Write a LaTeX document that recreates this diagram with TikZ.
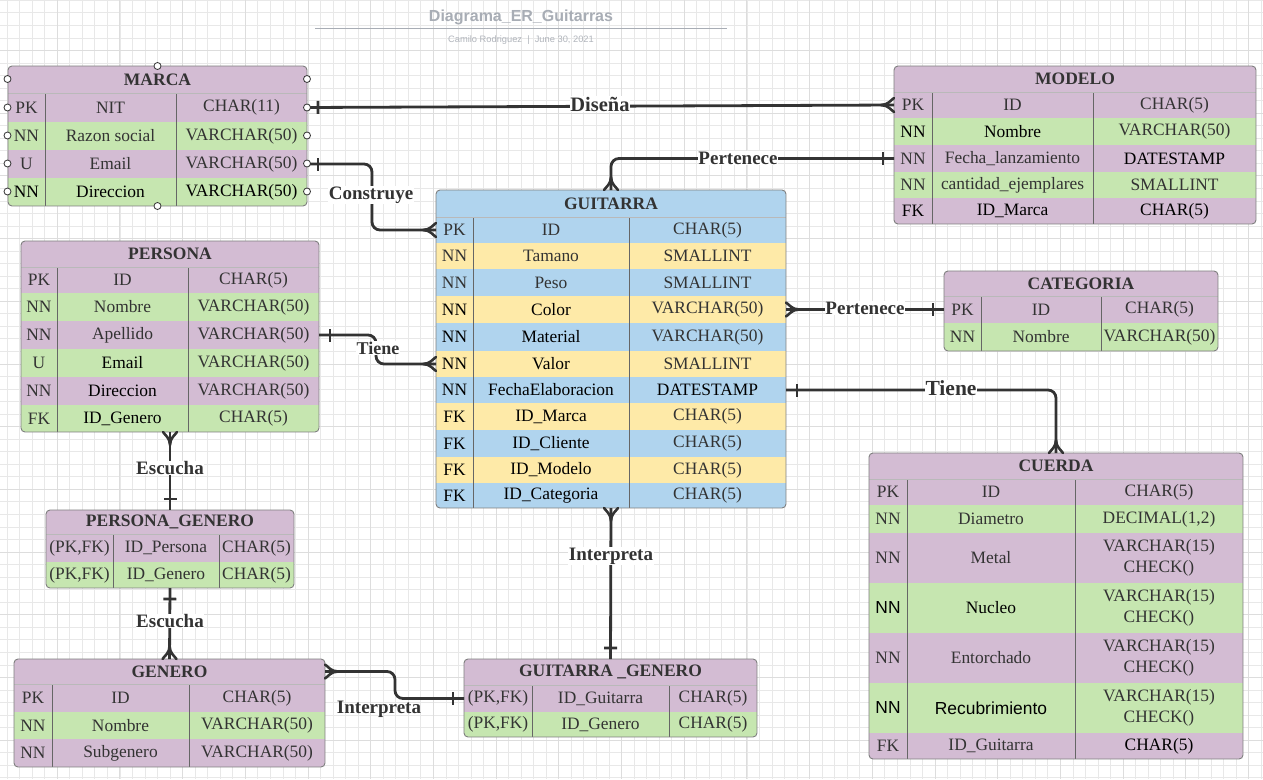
\documentclass[tikz,border=0pt]{standalone}
\usepackage{fontspec}
\setmainfont{Liberation Serif}
\newfontfamily\sansf{Liberation Sans}
\usetikzlibrary{calc}

\definecolor{pur}{HTML}{D3BCD3}
\definecolor{grn}{HTML}{C6E6B0}
\definecolor{blu}{HTML}{B0D4EE}
\definecolor{yel}{HTML}{FEEAA8}
\definecolor{ink}{HTML}{333333}
\definecolor{tblframe}{HTML}{7F7F7F}
\definecolor{tblcol}{HTML}{666666}
\definecolor{gminc}{HTML}{E8E8E8}
\definecolor{gmajc}{HTML}{DDDDDD}
\definecolor{ttl}{HTML}{A8ADB5}

% ER cardinality marks: "one" bar and "many" crow's foot
\pgfdeclarearrow{
  name = erone,
  setup code = {
    \pgfarrowssettipend{0pt}
    \pgfarrowssetlineend{0pt}
    \pgfarrowssetbackend{-13pt}
    \pgfarrowssetvisualbackend{-13pt}
  },
  drawing code = {
    \pgfsetlinewidth{2.6pt}
    \pgfsetdash{}{0pt}
    \pgfpathmoveto{\pgfqpoint{-11pt}{6.5pt}}
    \pgfpathlineto{\pgfqpoint{-11pt}{-6.5pt}}
    \pgfusepathqstroke
  }
}
\pgfdeclarearrow{
  name = ermany,
  setup code = {
    \pgfarrowssettipend{0pt}
    \pgfarrowssetlineend{0pt}
    \pgfarrowssetbackend{-14pt}
    \pgfarrowssetvisualbackend{-14pt}
  },
  drawing code = {
    \pgfsetlinewidth{2.6pt}
    \pgfsetdash{}{0pt}
    \pgfsetroundcap
    \pgfpathmoveto{\pgfqpoint{-13pt}{0pt}}
    \pgfpathcurveto{\pgfqpoint{-6pt}{0pt}}{\pgfqpoint{-3pt}{5pt}}{\pgfqpoint{0pt}{7pt}}
    \pgfpathmoveto{\pgfqpoint{-13pt}{0pt}}
    \pgfpathcurveto{\pgfqpoint{-6pt}{0pt}}{\pgfqpoint{-3pt}{-5pt}}{\pgfqpoint{0pt}{-7pt}}
    \pgfusepathqstroke
  }
}

\tikzset{
  cell/.style={inner sep=0pt, text=ink, font=\fontsize{17.4}{21}\selectfont, align=center},
  headtxt/.style={inner sep=0pt, text=ink, font=\bfseries\fontsize{17.5}{20}\selectfont},
  rowbox/.style={inner sep=0pt, outer sep=0pt, draw=none},
  tframe/.style={draw=tblframe, line width=0.9pt, rounded corners=4pt},
  colline/.style={draw=tblcol, line width=0.8pt},
  hdrline/.style={draw=gray!55, line width=0.8pt},
  conn/.style={draw=ink, line width=2.8pt, rounded corners=8pt},
  lbl/.style={text=ink, font=\bfseries\fontsize{19}{19}\selectfont, fill=white, inner sep=0.5pt},
  handle/.style={circle, draw=ink, fill=white, inner sep=0pt, minimum size=7pt, line width=0.8pt},
  gmin/.style={draw=gminc, line width=0.7pt},
  gmaj/.style={draw=gmajc, line width=0.8pt},
}

% table geometry: left, first divider, second divider, right, top, bottom
\newcommand\tbl[6]{%
  \def\tA{#1}\def\tB{#2}\def\tC{#3}\def\tD{#4}\def\tT{#5}\def\tE{#6}%
  \pgfmathsetmacro\xa{(#1+#2)/2}%
  \pgfmathsetmacro\xb{(#2+#3)/2}%
  \pgfmathsetmacro\xc{(#3+#4)/2}%
  \pgfmathsetmacro\xm{(#1+#4)/2}%
  \pgfmathsetmacro\tw{#4-#1}%
}
% header band: name, bottom, fill, title
\newcommand\thead[4]{%
  \pgfmathsetmacro\ym{(\tT+#2)/2}%
  \pgfmathsetmacro\rh{#2-\tT}%
  \node[rowbox, fill=#3, minimum width=\tw pt, minimum height=\rh pt] (#1) at (\xm,\ym) {};
  \node[headtxt] (#1-t) at (\xm,\ym) {#4};
}
% body row: name, top, bottom, fill, three cells
\newcommand\trow[7]{%
  \pgfmathsetmacro\ym{(#2+#3)/2}%
  \pgfmathsetmacro\rh{#3-#2}%
  \node[rowbox, fill=#4, minimum width=\tw pt, minimum height=\rh pt] (#1) at (\xm,\ym) {};
  \node[cell] (#1-a) at (\xa,\ym) {#5};
  \node[cell] (#1-b) at (\xb,\ym) {#6};
  \node[cell] (#1-c) at (\xc,\ym) {#7};
}
% dividers and outline, given the header bottom
\newcommand\tclose[1]{%
  \draw[colline] (\tB,#1) -- (\tB,\tE) (\tC,#1) -- (\tC,\tE);
  \draw[hdrline] (\tA,#1) -- (\tD,#1);
  \draw[tframe] (\tA,\tT) rectangle (\tD,\tE);
}
\newcommand\tclip{\clip[rounded corners=4pt] (\tA,\tT) rectangle (\tD,\tE);}

\begin{document}
\begin{tikzpicture}[x=1pt, y=-1pt]
\useasboundingbox (0,0) rectangle (1263,779);
\fill[white] (0,0) rectangle (1263,779);

% background grid
\foreach \i in {0,...,100} {\draw[gmin] ({7+\i*12.54},0) -- ++(0,779);}
\foreach \i in {0,...,62} {\draw[gmin] (0,{0.24+\i*12.54}) -- ++(1263,0);}
\foreach \i in {0,...,19} {\draw[gmaj] ({57.16+\i*62.7},0) -- ++(0,779);}
\foreach \i in {0,...,12} {\draw[gmaj] (0,{50.4+\i*62.7}) -- ++(1263,0);}

% title block
\node[font=\sansf\bfseries\fontsize{16}{16}\selectfont, text=ttl, inner sep=0pt] (title) at (521,17) {Diagrama\_ER\_Guitarras};
\draw[draw=ttl, line width=0.9pt] (315,28) -- (727,28);
\node[font=\sansf\fontsize{9.3}{10}\selectfont, text=ttl!90, inner sep=0pt] (subtitle) at (521,40) {Camilo Rodriguez\ \ |\ \ June 30, 2021};

% MARCA
\tbl{8}{45}{176}{307}{66}{206}
\begin{scope}\tclip
\thead{marca}{93}{pur}{MARCA}
\trow{marca-pk}{93}{122}{pur}{PK}{NIT}{CHAR(11)}
\trow{marca-rs}{122}{150}{grn}{NN}{Razon social}{VARCHAR(50)}
\trow{marca-em}{150}{178}{pur}{U}{Email}{VARCHAR(50)}
\trow{marca-dir}{178}{206}{grn}{\color{black}NN}{\color{black}Direccion}{\color{black}VARCHAR(50)}
\end{scope}
\tclose{93}

% MODELO
\tbl{894}{932}{1093}{1256}{66}{224}
\begin{scope}\tclip
\thead{modelo}{92}{pur}{MODELO}
\trow{modelo-pk}{92}{118}{pur}{PK}{ID}{CHAR(5)}
\trow{modelo-no}{118}{145}{grn}{\color{black}NN}{\color{black}Nombre}{VARCHAR(50)}
\trow{modelo-fl}{145}{172}{pur}{NN}{Fecha\_lanzamiento}{\color{black}DATESTAMP}
\trow{modelo-ce}{172}{198}{grn}{NN}{cantidad\_ejemplares}{SMALLINT}
\trow{modelo-fk}{198}{224}{pur}{\color{black}FK}{\color{black}ID\_Marca}{\color{black}CHAR(5)}
\end{scope}
\tclose{92}

% GUITARRA
\tbl{436}{473}{629}{786}{190}{508}
\begin{scope}\tclip
\thead{guitarra}{217}{blu}{GUITARRA}
\trow{guitarra-pk}{217}{243}{blu}{PK}{ID}{CHAR(5)}
\trow{guitarra-ta}{243}{269}{yel}{NN}{Tamano}{SMALLINT}
\trow{guitarra-pe}{269}{296}{blu}{NN}{Peso}{SMALLINT}
\trow{guitarra-co}{296}{323}{yel}{\color{black}NN}{\color{black}Color}{VARCHAR(50)}
\trow{guitarra-ma}{323}{351}{blu}{\color{black}NN}{\color{black}Material}{VARCHAR(50)}
\trow{guitarra-va}{351}{377}{yel}{\color{black}NN}{\color{black}Valor}{SMALLINT}
\trow{guitarra-fe}{377}{403}{blu}{\color{black}NN}{\color{black}FechaElaboracion}{\color{black}DATESTAMP}
\trow{guitarra-im}{403}{430}{yel}{\color{black}FK}{\color{black}ID\_Marca}{CHAR(5)}
\trow{guitarra-ic}{430}{457}{blu}{\color{black}FK}{\color{black}ID\_Cliente}{CHAR(5)}
\trow{guitarra-mo}{457}{483}{yel}{\color{black}FK}{\color{black}ID\_Modelo}{CHAR(5)}
\trow{guitarra-cat}{483}{508}{blu}{\color{black}FK}{\color{black}ID\_Categoria}{CHAR(5)}
\end{scope}
\tclose{217}

% PERSONA
\tbl{21}{57}{188}{319}{241}{432}
\begin{scope}\tclip
\thead{persona}{267}{pur}{PERSONA}
\trow{persona-pk}{267}{293}{pur}{PK}{ID}{CHAR(5)}
\trow{persona-no}{293}{321}{grn}{NN}{Nombre}{VARCHAR(50)}
\trow{persona-ap}{321}{349}{pur}{NN}{Apellido}{VARCHAR(50)}
\trow{persona-em}{349}{377}{grn}{U}{\color{black}Email}{VARCHAR(50)}
\trow{persona-di}{377}{405}{pur}{NN}{\color{black}Direccion}{VARCHAR(50)}
\trow{persona-fk}{405}{432}{grn}{FK}{\color{black}ID\_Genero}{CHAR(5)}
\end{scope}
\tclose{267}

% CATEGORIA
\tbl{944}{981}{1101}{1218}{271}{351}
\begin{scope}\tclip
\thead{categoria}{296}{pur}{CATEGORIA}
\trow{categoria-pk}{296}{323}{pur}{PK}{ID}{CHAR(5)}
\trow{categoria-no}{323}{351}{grn}{NN}{Nombre}{VARCHAR(50)}
\end{scope}
\tclose{296}

% CUERDA
\tbl{869}{907}{1075}{1243}{453}{759}
\begin{scope}\tclip
\thead{cuerda}{479}{pur}{CUERDA}
\trow{cuerda-pk}{479}{505}{pur}{PK}{ID}{CHAR(5)}
\trow{cuerda-di}{505}{533}{grn}{NN}{Diametro}{DECIMAL(1,2)}
\trow{cuerda-me}{533}{583}{pur}{NN}{Metal}{VARCHAR(15)\\CHECK()}
\trow{cuerda-nu}{583}{633}{grn}{\sansf\color{black}NN}{\color{black}Nucleo}{VARCHAR(15)\\CHECK()}
\trow{cuerda-en}{633}{683}{pur}{NN}{Entorchado}{VARCHAR(15)\\CHECK()}
\trow{cuerda-re}{683}{733}{grn}{\sansf\color{black}NN}{\sansf\color{black}Recubrimiento}{VARCHAR(15)\\CHECK()}
\trow{cuerda-fk}{733}{759}{pur}{FK}{ID\_Guitarra}{\color{black}CHAR(5)}
\end{scope}
\tclose{479}

% PERSONA_GENERO
\tbl{46}{113}{219}{294}{510}{588}
\begin{scope}\tclip
\thead{pg}{534}{pur}{PERSONA\_GENERO}
\trow{pg-p}{534}{562}{pur}{(PK,FK)}{ID\_Persona}{CHAR(5)}
\trow{pg-g}{562}{588}{grn}{(PK,FK)}{ID\_Genero}{CHAR(5)}
\end{scope}
\tclose{534}

% GENERO
\tbl{14}{52}{189}{325}{659}{767}
\begin{scope}\tclip
\thead{genero}{684}{pur}{GENERO}
\trow{genero-pk}{684}{712}{pur}{PK}{ID}{CHAR(5)}
\trow{genero-no}{712}{739}{grn}{NN}{Nombre}{VARCHAR(50)}
\trow{genero-sg}{739}{767}{pur}{NN}{Subgenero}{VARCHAR(50)}
\end{scope}
\tclose{684}

% GUITARRA_GENERO
\tbl{464}{532}{669}{757}{659}{737}
\begin{scope}\tclip
\thead{gg}{685}{pur}{GUITARRA \_GENERO}
\trow{gg-gu}{685}{712}{pur}{(PK,FK)}{ID\_Guitarra}{CHAR(5)}
\trow{gg-ge}{712}{737}{grn}{(PK,FK)}{ID\_Genero}{CHAR(5)}
\end{scope}
\tclose{685}

% relationships
\draw[conn, erone-ermany] (marca-pk.east) -- (modelo-pk.west);
\node[lbl, font=\bfseries\fontsize{20.5}{20}\selectfont] (l-disena) at (600,104) {Diseña};

\draw[conn, erone-ermany] (modelo-fl.west) -| (guitarra.north);
\node[lbl] (l-pert1) at (738,158) {Pertenece};

\draw[conn, erone-ermany] (marca-em.east) -- ++(65,0) |- (guitarra-pk.west);
\node[lbl] (l-constr) at (371,195) {Construye};

\draw[conn, erone-ermany] (persona-ap.east) -- ++(57,0) |- (guitarra-va.west);
\node[lbl, font=\bfseries\fontsize{18}{18}\selectfont] (l-tiene1) at (378,348) {Tiene};

\draw[conn, ermany-erone] (guitarra-co.east) -- (categoria-pk.west);
\node[lbl] (l-pert2) at (865,308) {Pertenece};

\draw[conn, erone-ermany] (guitarra-fe.east) -| (cuerda.north);
\node[lbl, font=\bfseries\fontsize{21.5}{21}\selectfont] (l-tiene2) at (951,388) {Tiene};

\draw[conn, ermany-erone] (persona-fk.south) -- (pg.north);
\node[lbl] (l-esc1) at (170,468) {Escucha};

\draw[conn, erone-ermany] (pg-g.south) -- (genero.north);
\node[lbl] (l-esc2) at (170,621) {Escucha};

\draw[conn, ermany-erone] (genero.east) -- ++(70,0) |- (gg-gu.west);
\node[lbl, fill=none] (l-int1) at (379,709) {Interpreta};

\draw[conn, ermany-erone] (guitarra-cat.south) -- (gg.north);
\node[lbl] (l-int2) at (611,556) {Interpreta};

% selection handles around MARCA
\foreach \hy [count=\k] in {79,107.5,135.5,163.5,191.5} {
  \node[handle] (hl\k) at (7.5,\hy) {};
  \node[handle] (hr\k) at (307,\hy) {};
}
\node[handle] (htop) at (157.5,66) {};
\node[handle] (hbot) at (157.5,206) {};
\end{tikzpicture}
\end{document}
